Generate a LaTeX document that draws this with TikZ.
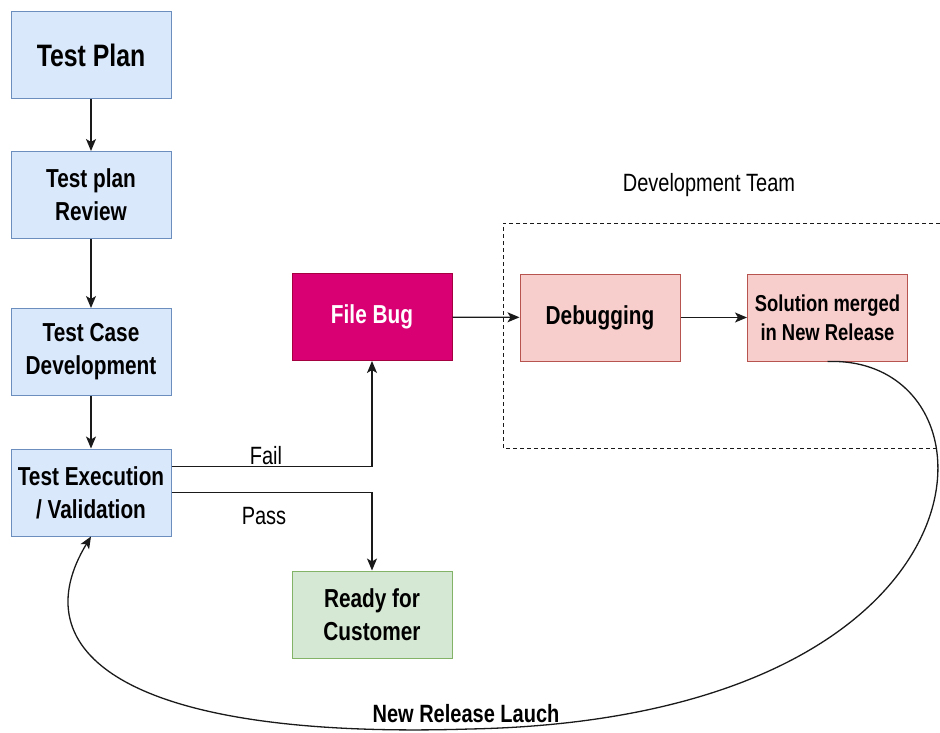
\documentclass[tikz,border=0pt]{standalone}
\usepackage{fontspec}
\setmainfont[FakeStretch=0.8]{Liberation Sans}
\usetikzlibrary{arrows.meta}
\definecolor{blueFill}{HTML}{DAE8FC}
\definecolor{blueLine}{HTML}{6C8EBF}
\definecolor{redFill}{HTML}{F8CECC}
\definecolor{redLine}{HTML}{B85450}
\definecolor{greenFill}{HTML}{D5E8D4}
\definecolor{greenLine}{HTML}{82B366}
\definecolor{bugFill}{HTML}{D80073}
\definecolor{bugLine}{HTML}{A50040}
\definecolor{wire}{HTML}{1A1A1A}
\tikzset{
  box/.style={rectangle, minimum width=160pt, minimum height=87pt, line width=1pt,
              align=center, inner sep=2pt,
              font=\fontsize{26}{33}\selectfont\bfseries},
  bluebox/.style={box, draw=blueLine, fill=blueFill},
  redbox/.style={box, draw=redLine, fill=redFill},
  greenbox/.style={box, draw=greenLine, fill=greenFill},
  bugbox/.style={box, draw=bugLine, fill=bugFill, text=white},
  arr/.style={draw=wire, line width=1.3pt, -{Stealth[length=12pt,width=10pt,inset=3pt]}},
  lbl/.style={font=\fontsize{25}{28}\selectfont, inner sep=0pt},
}
\begin{document}
\begin{tikzpicture}[x=1pt,y=-1pt]
  \useasboundingbox (0,0) rectangle (940,733);

  % testing track
  \node[bluebox, font=\fontsize{31}{36}\selectfont\bfseries] (plan) at (91,55) {Test Plan};
  \node[bluebox] (review) at (91,195) {Test plan\\Review};
  \node[bluebox] (dev) at (91,352) {Test Case\\Development};
  \node[bluebox] (tex) at (91,492.5) {Test Execution\\/ Validation};

  % outcomes
  \node[bugbox] (bug) at (372,317) {File Bug};
  \node[greenbox] (ready) at (372,614.5) {Ready for\\Customer};

  % development team
  \node[redbox] (debug) at (600,317.5) {Debugging};
  \node[redbox, font=\fontsize{23}{29}\selectfont\bfseries] (sol) at (827.5,317.5)
       {Solution merged\\in New Release};
  \coordinate (teamTR) at (940,223);
  \coordinate (teamBR) at (940,448);
  \draw[wire, line width=1pt, dash pattern=on 4pt off 3pt]
       (teamTR) -| (503,448) -- (teamBR);
  \node[lbl] (team) at (709,185) {Development Team};

  % flow connectors
  \draw[arr] (plan) -- (review);
  \draw[arr] (review) -- (dev);
  \draw[arr] (dev) -- (tex);
  \draw[arr] ([yshift=26pt]tex.east) -| (bug.south);
  \draw[arr] (tex.east) -| (ready.north);
  \draw[arr] (bug) -- (debug);
  \draw[arr] (debug) -- (sol);
  \node[lbl] (fail) at (266,456) {Fail};
  \node[lbl] (pass) at (264,516) {Pass};

  % release loop back to execution
  \draw[arr] (sol.south) .. controls (1012,355) and (1010,718) .. (470,729)
             .. controls (120,740) and (22,650) .. (tex.south);
  \node[font=\fontsize{25}{28}\selectfont\bfseries, inner sep=0pt] (launch) at (466,714)
       {New Release Lauch};
\end{tikzpicture}
\end{document}
